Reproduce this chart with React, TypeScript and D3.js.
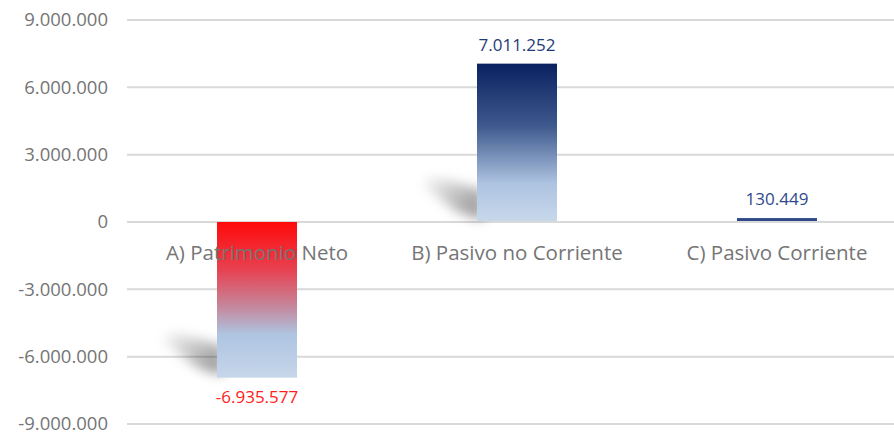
import React from "react";
import * as d3 from "d3";

const categories = ["A) Patrimonio Neto", "B) Pasivo no Corriente", "C) Pasivo Corriente"];
const values = [-6935577, 7011252, 130449];
const labelColors = ["#ff2020", "#1f3a78", "#2f4a8a"];
const yTicks = [-9000000, -6000000, -3000000, 0, 3000000, 6000000, 9000000];

const W = 894;
const H = 434;
const FONT = "'Open Sans', 'Noto Sans', sans-serif";

const fmt = (v: number) => {
  const s = d3.format(",")(Math.abs(v)).replace(/,/g, ".");
  return (v < 0 ? "-" : "") + s;
};

export default function App() {
  const x = d3.scaleBand<string>().domain(categories).range([127, 907]).paddingInner(0.6923).paddingOuter(0.3462);
  const y = d3.scaleLinear().domain([-9000000, 9000000]).range([424, 20]);
  const bw = x.bandwidth();

  return (
    <svg width={W} height={H} style={{ position: "absolute", left: 0, top: 0, background: "#fff" }}>
      <defs>
        <linearGradient id="gA" x1="0" y1="0" x2="0" y2="1">
          <stop offset="0" stopColor="#ff0a0a" />
          <stop offset="0.3" stopColor="#e8404f" />
          <stop offset="0.55" stopColor="#c4899e" />
          <stop offset="0.72" stopColor="#aec4e0" />
          <stop offset="1" stopColor="#c6d6ea" />
        </linearGradient>
        <linearGradient id="gB" x1="0" y1="0" x2="0" y2="1">
          <stop offset="0" stopColor="#0a2160" />
          <stop offset="0.4" stopColor="#3f5a8e" />
          <stop offset="0.76" stopColor="#adc3e0" />
          <stop offset="1" stopColor="#c8d8eb" />
        </linearGradient>
        <linearGradient id="gC" x1="0" y1="0" x2="0" y2="1">
          <stop offset="0" stopColor="#2f4a8a" />
          <stop offset="1" stopColor="#2f4a8a" />
        </linearGradient>
        <linearGradient id="shd" x1="1" y1="0.6" x2="0" y2="0">
          <stop offset="0" stopColor="#000" stopOpacity="0.38" />
          <stop offset="0.5" stopColor="#000" stopOpacity="0.2" />
          <stop offset="1" stopColor="#000" stopOpacity="0" />
        </linearGradient>
        <filter id="blur" x="-50%" y="-50%" width="200%" height="200%">
          <feGaussianBlur stdDeviation="6" />
        </filter>
      </defs>

      {yTicks.map((t) => (
        <g key={t}>
          <line x1={127} x2={W} y1={y(t)} y2={y(t)} stroke="#d9d9d9" strokeWidth={2} />
          <text x={108} y={y(t)} dy="0.35em" textAnchor="end" fontFamily={FONT} fontSize={18.5} fill="#757575">
            {fmt(t)}
          </text>
        </g>
      ))}

      {categories.map((c, i) => {
        const v = values[i];
        const x0 = x(c)!;
        const yBot = y(Math.min(0, v));
        const showShadow = Math.abs(y(v) - y(0)) > 20;
        return (
          <g key={c}>
            {showShadow && (
              <polygon
                points={`${x0 + 6},${yBot - 2} ${x0 + 6},${yBot - 32} ${x0 - 44},${yBot - 46} ${x0 - 56},${yBot - 38} ${x0 - 20},${yBot - 10}`}
                fill="url(#shd)"
                filter="url(#blur)"
              />
            )}
          </g>
        );
      })}

      {categories.map((c, i) => {
        const v = values[i];
        const x0 = x(c)!;
        const yTop = y(Math.max(0, v));
        const yBot = y(Math.min(0, v));
        const h = Math.max(1.5, yBot - yTop);
        const grad = i === 0 ? "url(#gA)" : i === 1 ? "url(#gB)" : "url(#gC)";
        return (
          <g key={c}>
            <rect x={x0} y={v >= 0 ? yBot - h - 1 : yTop} width={bw} height={h} fill={grad} />
            <text
              x={x0 + bw / 2}
              y={v >= 0 ? y(v) - 14 : y(v) + 25}
              textAnchor="middle"
              fontFamily={FONT}
              fontSize={17}
              fill={labelColors[i]}
            >
              {fmt(v)}
            </text>
          </g>
        );
      })}

      {categories.map((c) => (
        <text key={c} x={x(c)! + bw / 2} y={y(0) + 38} textAnchor="middle" fontFamily={FONT} fontSize={20.5} fill="#757575">
          {c}
        </text>
      ))}
    </svg>
  );
}
